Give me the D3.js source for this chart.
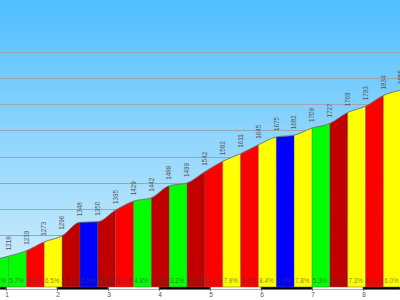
<!DOCTYPE html>
<html><head><meta charset="utf-8">
<script src="https://cdn.jsdelivr.net/npm/d3@7"></script>
<style>html,body{margin:0;padding:0;background:#fff;}svg{display:block;}</style>
</head><body>
<svg id="c" width="400" height="300"></svg>
<script>
// Boundary distances (km) of each 350 m section, elevations (m) at boundaries, section grades (%)
const startKm = 0.70;
const stepKm = 0.35;
const elevations = [1202, 1218, 1239, 1273, 1296, 1348, 1350, 1395, 1429, 1442, 1488, 1499, 1542, 1582, 1611, 1645, 1675, 1682, 1709, 1727, 1769, 1793, 1834, 1855];
const grades = [4.5, 5.7, 9.8, 6.5, 15.1, 0.5, 12.9, 9.6, 4.8, 12.9, 3.2, 12.6, 11.0, 7.9, 9.6, 8.4, 1.9, 7.8, 5.3, 12.2, 7.3, 11.4, 6.0];
const kmTicks = [1, 2, 3, 4, 5, 6, 7, 8];
const gridElev = [1200, 1300, 1400, 1500, 1600, 1700, 1800, 1900, 2000];

const W = 400, H = 300, plotBottom = 287;
const svg = d3.select('#c');
const x = d3.scaleLinear().domain([1, 8]).range([6, 363]);
const y = d3.scaleLinear().domain([1100, 2200]).range([plotBottom, 0]);
const color = d3.scaleThreshold().domain([3, 6, 9, 12]).range(['#0000ff', '#00ff00', '#ffff00', '#ff0000', '#c00000']);

const pts = elevations.map((e, i) => ({d: startKm + i * stepKm, e}));
const segs = grades.map((g, i) => ({d0: pts[i].d, d1: pts[i + 1].d, g}));

const defs = svg.append('defs');
const lg = defs.append('linearGradient').attr('id', 'bg').attr('x1', 0).attr('y1', 0).attr('x2', 0).attr('y2', 1);
lg.append('stop').attr('offset', '0%').attr('stop-color', '#4fbefd');
lg.append('stop').attr('offset', '100%').attr('stop-color', '#d6effd');
svg.append('rect').attr('x', 0).attr('y', 0).attr('width', W).attr('height', plotBottom).attr('fill', 'url(#bg)');

svg.append('g').selectAll('line').data(gridElev).join('line')
  .attr('x1', 0).attr('x2', W).attr('y1', d => Math.round(y(d)) + 0.5).attr('y2', d => Math.round(y(d)) + 0.5)
  .attr('stroke', '#9aa6b0').attr('stroke-width', 1);

const area = d3.area().x(p => x(p.d)).y0(plotBottom).y1(p => y(p.e)).curve(d3.curveMonotoneX);
const line = d3.line().x(p => x(p.d)).y(p => y(p.e)).curve(d3.curveMonotoneX);
defs.append('clipPath').attr('id', 'prof').append('path').attr('d', area(pts));

const gp = svg.append('g').attr('clip-path', 'url(#prof)');
gp.selectAll('rect').data(segs).join('rect')
  .attr('x', s => x(s.d0)).attr('width', s => x(s.d1) - x(s.d0))
  .attr('y', 0).attr('height', plotBottom).attr('fill', s => color(s.g));
gp.selectAll('line').data(pts).join('line')
  .attr('x1', p => x(p.d)).attr('x2', p => x(p.d)).attr('y1', 0).attr('y2', plotBottom)
  .attr('stroke', '#555').attr('stroke-opacity', 0.6).attr('stroke-width', 0.7);

svg.append('path').attr('d', line(pts)).attr('fill', 'none').attr('stroke', '#6a7078').attr('stroke-width', 0.9);

// grade labels
svg.append('g').selectAll('text').data(segs).join('text')
  .attr('x', s => (x(s.d0) + x(s.d1)) / 2 - 1).attr('y', 283)
  .attr('text-anchor', 'middle').attr('font-family', 'Liberation Sans, Arial, sans-serif').attr('font-size', 6.3)
  .attr('fill', '#404040').attr('fill-opacity', 0.65)
  .text(s => s.g.toFixed(1) + '%');

// elevation labels
svg.append('g').selectAll('text').data(pts).join('text')
  .attr('transform', p => `translate(${x(p.d)},${y(p.e) - 6}) rotate(-90)`)
  .attr('dy', '0.35em').attr('text-anchor', 'start')
  .attr('font-family', 'Liberation Sans, Arial, sans-serif').attr('font-size', 6.3)
  .attr('fill', '#555')
  .text(p => p.e);

// distance bar
const bandEdges = [x.invert(0)].concat(kmTicks).concat([x.invert(W)]);
const bands = d3.pairs(bandEdges).map(([a, b]) => ({a, b, black: Math.floor(a + 0.001) % 2 === 0 || a < 1}));
svg.append('g').selectAll('rect').data(bands).join('rect')
  .attr('x', b => x(b.a)).attr('width', b => x(b.b) - x(b.a))
  .attr('y', plotBottom).attr('height', 2.5)
  .attr('fill', b => b.black ? '#000' : '#fff').attr('stroke', '#666').attr('stroke-width', 0.5);
svg.append('g').selectAll('line').data(kmTicks).join('line')
  .attr('x1', d => x(d) + 0.5).attr('x2', d => x(d) + 0.5).attr('y1', plotBottom).attr('y2', plotBottom + 4)
  .attr('stroke', '#444').attr('stroke-width', 0.7);
svg.append('g').selectAll('text').data(kmTicks).join('text')
  .attr('x', d => x(d) + 1).attr('y', plotBottom + 9.5)
  .attr('text-anchor', 'middle').attr('font-family', 'Liberation Sans, Arial, sans-serif').attr('font-size', 6.5)
  .attr('fill', '#555').text(d => d);
</script>
</body></html>
